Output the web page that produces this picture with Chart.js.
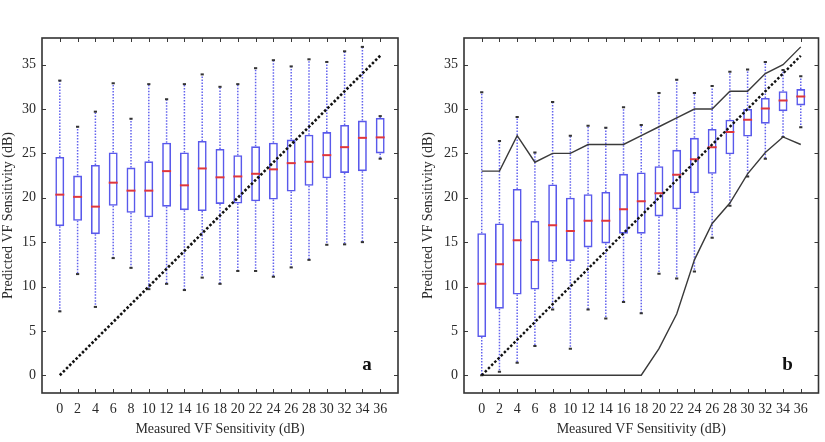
<!DOCTYPE html>
<html><head><meta charset="utf-8">
<script src="https://cdn.jsdelivr.net/npm/chart.js@4"></script>
<style>
html,body{margin:0;padding:0;background:#fff;width:825px;height:442px;overflow:hidden;}
#ca{position:absolute;left:0;top:0;}
#cb{position:absolute;left:420px;top:0;}
</style></head><body>
<canvas id="ca" width="412" height="442" style="width:412px;height:442px"></canvas>
<canvas id="cb" width="405" height="442" style="width:405px;height:442px"></canvas>
<script>
// ---------- data ----------
const categories = [0,2,4,6,8,10,12,14,16,18,20,22,24,26,28,30,32,34,36];
const yTickValues = [0,5,10,15,20,25,30,35];
const identityLine = [0, 36];

// panel a
const aLow  = [7.2,11.4,7.7,13.2,12.1,9.7,10.3,9.6,11.0,10.3,11.75,11.75,11.1,12.15,13.0,14.7,14.75,15.0,24.4];
const aQ1   = [16.8,17.4,15.9,19.1,18.3,17.8,19.0,18.6,18.5,19.3,19.35,19.6,19.8,20.7,21.35,22.2,22.8,23.0,25.0];
const aMed  = [20.35,20.1,19.0,21.7,20.8,20.8,23.0,21.4,23.3,22.3,22.4,22.7,23.2,23.9,24.05,24.8,25.7,26.75,26.8];
const aQ3   = [24.6,22.5,23.7,25.1,23.4,24.1,26.2,25.1,26.4,25.5,24.8,25.8,26.2,26.55,27.1,27.4,28.2,28.7,29.0];
const aHigh = [33.2,28.0,29.7,32.9,28.9,32.8,31.1,32.8,33.9,32.5,32.8,34.6,35.5,34.8,35.6,35.3,36.5,37.0,29.2];

// panel b
const bLow  = [0.0,0.4,1.4,3.3,7.4,3.0,7.4,6.4,8.25,7.0,11.45,10.9,11.7,15.5,19.1,22.4,24.4,26.85,27.95];
const bQ1   = [4.3,7.5,9.1,9.65,12.8,12.85,14.4,14.85,15.95,15.95,17.9,18.7,20.5,22.7,24.9,26.9,28.35,29.75,30.4];
const bMed  = [10.3,12.5,15.2,13.0,16.9,16.25,17.4,17.4,18.7,19.6,20.5,22.6,24.35,25.7,27.4,28.8,30.05,30.95,31.4];
const bQ3   = [16.0,17.1,21.0,17.4,21.5,20.0,20.4,20.65,22.7,22.85,23.55,25.4,26.75,27.75,28.8,30.0,31.25,32.0,32.25];
const bHigh = [31.9,26.4,29.1,25.1,30.8,27.0,28.1,27.9,30.2,28.2,31.8,33.3,31.8,32.6,34.2,34.45,35.3,34.4,33.7];
const bUpperLimit = [23,23,27,24,25,25,26,26,26,27,28,29,30,30,32,32,34,35,37];
const bLowerLimit = [0,0,0,0,0,0,0,0,0,0,3.0,6.9,13.0,17.1,19.4,22.7,25.1,26.85,26.0];

// ---------- styling ----------
const FONT = "'Liberation Serif','DejaVu Serif','Times New Roman',serif";
const TXT = '#2a2a2a';
const BOX = 'rgba(60,60,232,0.85)';
const WHISK = 'rgba(70,70,235,0.85)';
const MED = '#e0363c';

const framePlugin = {
  id: 'frame',
  afterDatasetsDraw(chart, args, opts) {
    const {ctx, chartArea: a, scales} = chart;
    ctx.save();
    ctx.strokeStyle = '#3a3a3a';
    ctx.lineWidth = 1;
    const tl = 4;
    ctx.beginPath();
    categories.forEach(v => {
      const x = Math.round(scales.x.getPixelForValue(v)) + 0.5;
      ctx.moveTo(x, a.bottom); ctx.lineTo(x, a.bottom - tl);
      ctx.moveTo(x, a.top); ctx.lineTo(x, a.top + tl);
    });
    yTickValues.forEach(v => {
      const y = Math.round(scales.y.getPixelForValue(v)) + 0.5;
      ctx.moveTo(a.left, y); ctx.lineTo(a.left + tl, y);
      ctx.moveTo(a.right, y); ctx.lineTo(a.right - tl, y);
    });
    ctx.stroke();
    ctx.lineWidth = 1.6;
    ctx.strokeStyle = '#333';
    ctx.strokeRect(a.left, a.top, a.right - a.left, a.bottom - a.top);
    // panel letter
    ctx.fillStyle = '#111';
    ctx.font = 'bold 19px ' + FONT;
    ctx.textAlign = 'center';
    ctx.textBaseline = 'alphabetic';
    ctx.fillText(opts.letter, a.right - 31, a.bottom - 23);
    ctx.restore();
  }
};

function boxDatasets(lo, q1, med, q3, hi) {
  const whiskers = [];
  const caps = [];
  categories.forEach((c, i) => {
    whiskers.push({x: c, y: q3[i]}, {x: c, y: hi[i]}, {x: c, y: null},
                  {x: c, y: q1[i]}, {x: c, y: lo[i]}, {x: c, y: null});
    caps.push({x: c, y: lo[i]}, {x: c, y: hi[i]});
  });
  return [
    { type: 'line', label: 'median', data: categories.map((c, i) => ({x: c, y: med[i]})),
      showLine: false, pointStyle: 'line', pointRadius: 4.5, pointBorderWidth: 2,
      pointBorderColor: MED, pointBackgroundColor: MED, order: 2 },
    { type: 'line', label: 'caps', data: caps,
      showLine: false, pointStyle: 'line', pointRadius: 1.6, pointBorderWidth: 2,
      pointBorderColor: '#333', order: 3 },
    { type: 'bar', label: 'box', data: categories.map((c, i) => ({x: c, y: [q1[i], q3[i]]})),
      backgroundColor: 'rgba(0,0,0,0)', borderColor: BOX, borderWidth: 1.6,
      borderSkipped: false, categoryPercentage: 0.5, barPercentage: 1.0, order: 4 },
    { type: 'line', label: 'whiskers', data: whiskers, spanGaps: false,
      borderColor: WHISK, borderWidth: 1.5, borderDash: [1.5, 1.5], pointRadius: 0, order: 5 }
  ];
}

function refLine(values, color, width, dash, ord) {
  return { type: 'line', label: 'ref', data: values, borderColor: color, borderWidth: width,
           borderDash: dash, pointRadius: 0, order: ord, borderCapStyle: 'butt' };
}

function makePanel(canvas, datasets, letter, yWidth, rightPad) {
  return new Chart(canvas, {
    type: 'bar',
    data: { datasets },
    options: {
      responsive: false,
      animation: false,
      events: [],
      layout: { padding: { top: 38, right: rightPad, left: 0, bottom: 0 } },
      plugins: { legend: { display: false }, tooltip: { enabled: false }, frame: { letter } },
      scales: {
        x: {
          type: 'linear', min: -2, max: 38, offset: false,
          afterBuildTicks: s => { s.ticks = categories.map(v => ({ value: v })); },
          afterFit: s => { s.height = 49; },
          ticks: { autoSkip: false, maxRotation: 0, minRotation: 0, padding: 8,
                   color: TXT, font: { family: FONT, size: 14 } },
          grid: { display: false, drawTicks: false },
          border: { display: false },
          title: { display: true, text: 'Measured VF Sensitivity (dB)', color: TXT,
                   font: { family: FONT, size: 14 }, padding: { top: 0, bottom: 4 } }
        },
        y: {
          type: 'linear', min: -2, max: 38,
          afterBuildTicks: s => { s.ticks = yTickValues.map(v => ({ value: v })); },
          afterFit: s => { s.width = yWidth; },
          ticks: { padding: 6, color: TXT, font: { family: FONT, size: 14 } },
          grid: { display: false, drawTicks: false },
          border: { display: false },
          title: { display: true, text: 'Predicted VF Sensitivity (dB)', color: TXT,
                   font: { family: FONT, size: 14 }, padding: { top: 0, bottom: 0 } }
        }
      }
    },
    plugins: [framePlugin]
  });
}

const identityPts = identityLine.map(v => ({ x: v, y: v }));

const dsA = [refLine(identityPts, '#111', 2.6, [2.5, 2], 1)].concat(boxDatasets(aLow, aQ1, aMed, aQ3, aHigh));
const dsB = [
  refLine(identityPts, '#111', 2.4, [2.5, 2], 1),
  refLine(categories.map((c, i) => ({ x: c, y: bUpperLimit[i] })), '#3a3a3a', 1.4, [], 1),
  refLine(categories.map((c, i) => ({ x: c, y: bLowerLimit[i] })), '#3a3a3a', 1.4, [], 1)
].concat(boxDatasets(bLow, bQ1, bMed, bQ3, bHigh));

makePanel(document.getElementById('ca'), dsA, 'a', 42, 14);
makePanel(document.getElementById('cb'), dsB, 'b', 44, 5);
</script>
</body></html>
